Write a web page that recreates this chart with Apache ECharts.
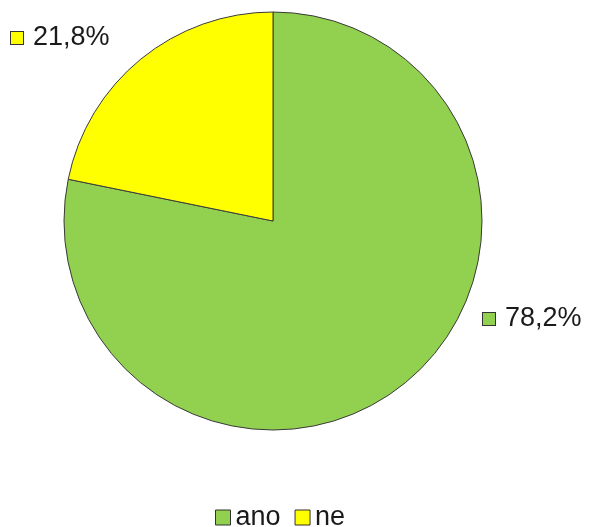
<!DOCTYPE html>
<html>
<head>
<meta charset="utf-8">
<script src="https://cdn.jsdelivr.net/npm/echarts@6/dist/echarts.min.js"></script>
<style>
  html, body { margin: 0; padding: 0; background: #fff; }
  #chart { width: 589px; height: 527px; }
</style>
</head>
<body>
<div id="chart"></div>
<script>
// Answer categories and their shares (percent)
const categories = ['ano', 'ne'];
const shares = [78.2, 21.8];
const sliceColors = ['#92D050', '#FFFF00'];

// Fixed anchor points for the two value labels
const labelAnchors = [
  { x: 483, y: 319 },
  { x: 11, y: 38 }
];

const chart = echarts.init(document.getElementById('chart'), null, { renderer: 'canvas' });

const pieData = categories.map((name, i) => ({
  name: name,
  value: shares[i],
  itemStyle: { color: sliceColors[i] },
  label: {
    rich: {
      sq: {
        width: 12, height: 12,
        backgroundColor: sliceColors[i],
        borderColor: '#333', borderWidth: 1
      },
      t: {
        fontFamily: 'Liberation Sans, Arial, sans-serif',
        fontSize: 27, color: '#1a1a1a',
        padding: [0, 0, 0, 10]
      }
    }
  }
}));

chart.setOption({
  animation: false,
  backgroundColor: '#ffffff',
  legend: {
    data: categories,
    left: 210,
    top: 499,
    itemWidth: 15,
    itemHeight: 15,
    itemGap: 14,
    icon: 'rect',
    itemStyle: { borderColor: '#333', borderWidth: 1 },
    textStyle: {
      fontFamily: 'Liberation Sans, Arial, sans-serif',
      fontSize: 27, color: '#1a1a1a'
    }
  },
  series: [{
    type: 'pie',
    center: [273, 221],
    radius: [0, 209],
    startAngle: 90,
    clockwise: true,
    avoidLabelOverlap: false,
    itemStyle: { borderColor: '#3a3a3a', borderWidth: 1 },
    emphasis: { disabled: true },
    label: {
      show: true,
      position: 'outside',
      formatter: p => '{sq|}{t|' + p.value.toFixed(1).replace('.', ',') + '%}'
    },
    labelLine: { show: false },
    labelLayout: params => ({
      x: labelAnchors[params.dataIndex].x,
      y: labelAnchors[params.dataIndex].y,
      align: 'left',
      verticalAlign: 'middle'
    }),
    data: pieData
  }]
});
</script>
</body>
</html>
